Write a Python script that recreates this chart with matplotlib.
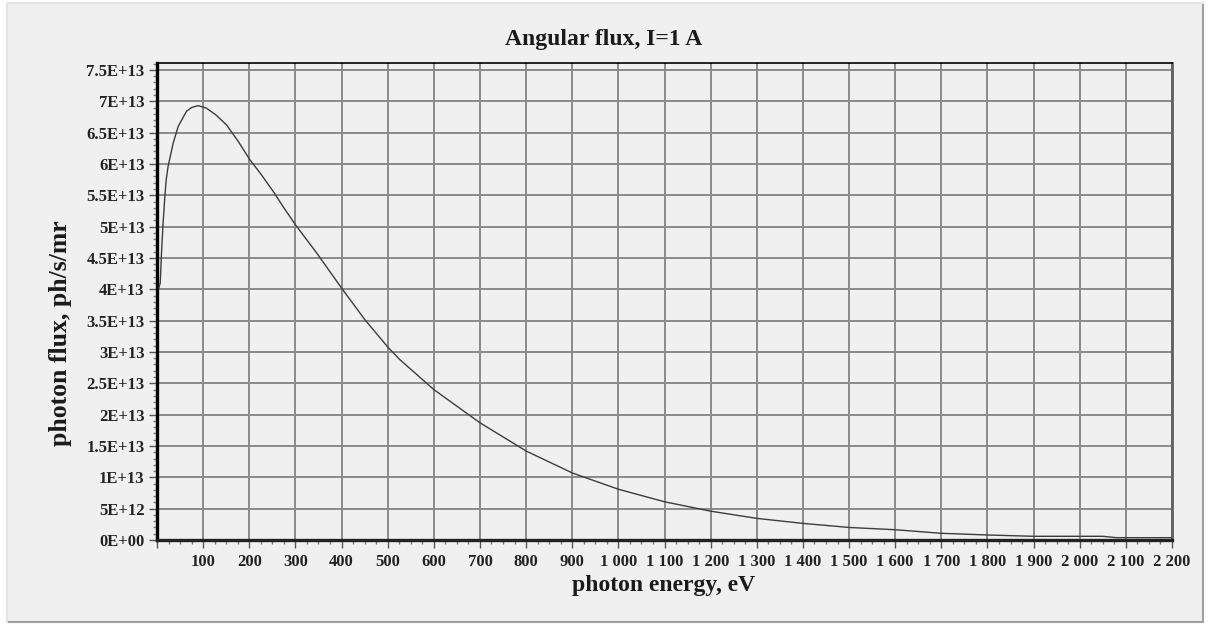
import numpy as np
import matplotlib.pyplot as plt
from matplotlib.ticker import MultipleLocator, FuncFormatter
from matplotlib.patches import Rectangle
from matplotlib.lines import Line2D

# photon energy (eV) and angular flux (ph/s/mr), I = 1 A
energy = [4, 7, 10, 13, 17, 20, 24, 35, 46, 52, 64, 75, 89, 107, 128, 151,
          176, 201, 226, 252, 275, 300, 346, 400, 450, 500, 526, 600, 700,
          800, 900, 1000, 1100, 1200, 1300, 1400, 1500, 1600, 1700, 1800,
          1900, 2000, 2050, 2080, 2200]
flux_e13 = [4.02, 4.10, 4.62, 5.03, 5.48, 5.75, 5.96, 6.33, 6.60, 6.68, 6.84,
            6.90, 6.93, 6.89, 6.78, 6.62, 6.36, 6.07, 5.83, 5.56, 5.30, 5.03,
            4.58, 4.02, 3.52, 3.08, 2.88, 2.40, 1.87, 1.42, 1.07, 0.81, 0.61,
            0.46, 0.345, 0.265, 0.20, 0.164, 0.107, 0.08, 0.059, 0.059, 0.059,
            0.037, 0.037]
flux = np.array(flux_e13) * 1e13

FONT = 'Liberation Serif'
BG = '#f0f0f0'
W, H = 1208, 625

fig = plt.figure(figsize=(W / 100, H / 100), dpi=100, facecolor='white')

# panel with a sunken border
fig.patches.append(Rectangle((7 / W, 3 / H), 1196 / W, 619 / H,
                             transform=fig.transFigure, facecolor=BG,
                             edgecolor='none', zorder=-2))
fig.lines.append(Line2D([7 / W, 1203 / W, 1203 / W], [3 / H, 3 / H, 622 / H],
                        transform=fig.transFigure, color='#a0a0a0', lw=1.5,
                        zorder=-1))
fig.lines.append(Line2D([7 / W, 7 / W, 1203 / W], [3 / H, 622 / H, 622 / H],
                        transform=fig.transFigure, color='#e4e4e4', lw=1.5,
                        zorder=-1))

ax = fig.add_axes([157 / W, 1 - 540 / H, 1015 / W, 477 / H])
ax.set_facecolor(BG)

ax.plot(energy, flux, color='#3c3c3c', lw=1.0, zorder=3)

ax.set_xlim(0, 2200)
ax.set_ylim(0, 7.61e13)

ax.xaxis.set_major_locator(MultipleLocator(100))
ax.xaxis.set_minor_locator(MultipleLocator(25))
ax.yaxis.set_major_locator(MultipleLocator(5e12))
ax.yaxis.set_minor_locator(MultipleLocator(1e12))


def fmt_x(v, pos):
    if v <= 0:
        return ''
    return f'{int(round(v)):,}'.replace(',', ' ')


def fmt_y(v, pos):
    if v == 0:
        return '0E+00'
    s = f'{v:.1E}'
    mant, exp = s.split('E')
    mant = mant.rstrip('0').rstrip('.')
    return f'{mant}E+{int(exp):02d}'


ax.xaxis.set_major_formatter(FuncFormatter(fmt_x))
ax.yaxis.set_major_formatter(FuncFormatter(fmt_y))

ax.grid(True, which='major', color='#8a8a8a', lw=1.4, zorder=1)
ax.set_axisbelow(True)

ax.tick_params(which='major', length=6, width=1.0, color='#555555',
               labelsize=12, pad=3)
ax.tick_params(which='minor', length=3, width=1.0, color='#777777')
for lab in ax.get_xticklabels() + ax.get_yticklabels():
    lab.set_fontfamily(FONT)
    lab.set_fontweight('bold')
    lab.set_color('#222222')
ax.tick_params(axis='x', pad=4)

ax.spines['left'].set_linewidth(2.4)
ax.spines['left'].set_color('black')
ax.spines['bottom'].set_linewidth(2.4)
ax.spines['bottom'].set_color('#222222')
ax.spines['top'].set_linewidth(1.2)
ax.spines['top'].set_color('black')
ax.spines['right'].set_linewidth(2.0)
ax.spines['right'].set_color('#606060')

fig.text(0.5, 1 - 40 / H, 'Angular flux, I=1 A', ha='center', va='center',
         fontsize=17, fontweight='bold', family=FONT, color='#1a1a1a')
fig.text(664 / W, 1 - 586 / H, 'photon energy, eV', ha='center',
         va='center', fontsize=17, fontweight='bold', family=FONT,
         color='#1a1a1a')
fig.text(61 / W, 1 - 333 / H, 'photon flux, ph/s/mr', ha='center',
         va='center', rotation=90, fontsize=18.5, fontweight='bold',
         family=FONT, color='#1a1a1a')

fig.savefig('out.png', dpi=100, facecolor=fig.get_facecolor())
